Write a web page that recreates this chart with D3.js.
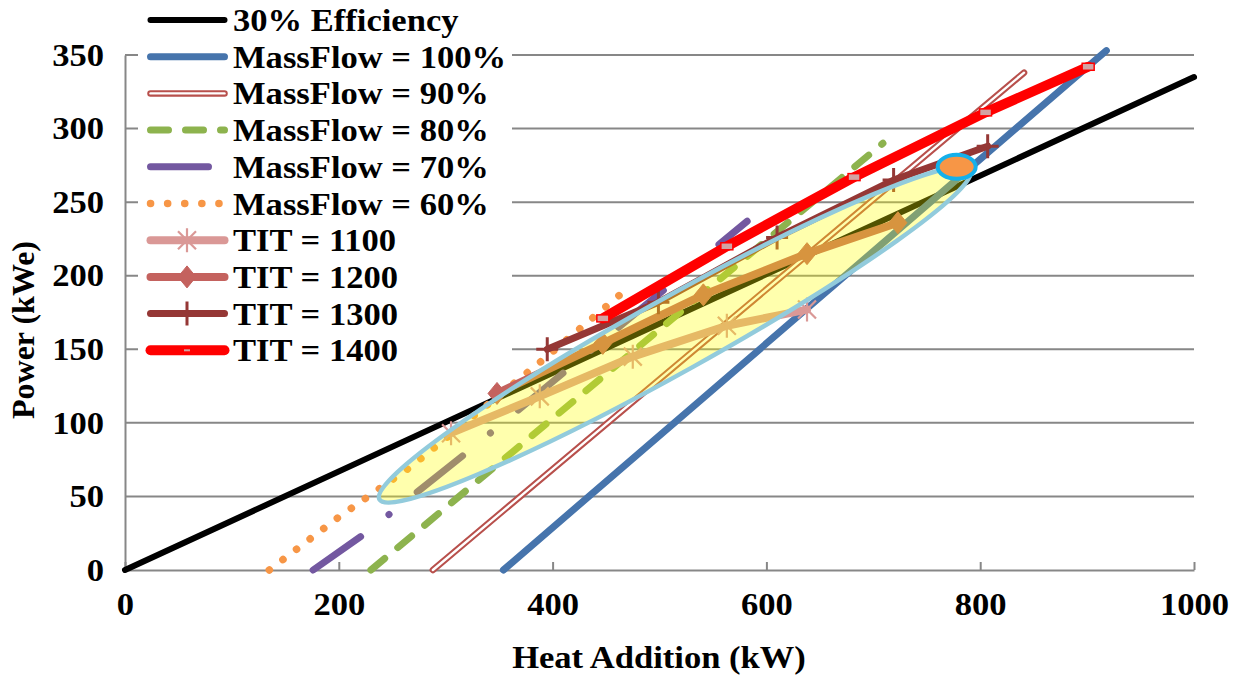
<!DOCTYPE html>
<html lang="en">
<head>
<meta charset="utf-8">
<title>Power vs Heat Addition</title>
<script src="https://d3js.org/d3.v7.min.js"></script>
<style>
  body { margin: 0; background: #fff; }
  text { font-family: "Liberation Serif", "Times New Roman", serif; font-weight: bold; fill: #000; }
</style>
</head>
<body>
<svg id="chart" width="1237" height="677"></svg>
<script>
// values: heat addition (kW) and power (kWe)
var effX = [0, 1000],
    effY = [0, 335];
var mf100X = [354, 918],
    mf100Y = [0, 353];
var mf90X = [288, 841],
    mf90Y = [0, 338];
var mf80X = [230, 709],
    mf80Y = [0, 290];
var mf70X = [176, 225, 320, 582],
    mf70Y = [0, 25, 80, 237];
var mf60X = [135, 200, 267, 388, 463],
    mf60Y = [0, 36, 70, 141, 187];
var tit1100X = [305, 388, 475, 563, 638],
    tit1100Y = [93, 118, 145, 166, 177];
var tit1200X = [348, 447, 541, 638, 723],
    tit1200Y = [120, 154, 187, 215, 236];
var tit1300X = [395, 499, 610, 719, 807],
    tit1300Y = [150, 182, 226, 265, 288];
var tit1400X = [447, 563, 682, 805, 901],
    tit1400Y = [171, 220, 267, 311, 342];

var seriesNames = ["30% Efficiency", "MassFlow = 100%", "MassFlow = 90%", "MassFlow = 80%",
                   "MassFlow = 70%", "MassFlow = 60%", "TIT = 1100", "TIT = 1200",
                   "TIT = 1300", "TIT = 1400"];
var xTicks = [0, 200, 400, 600, 800, 1000];
var yTicks = [0, 50, 100, 150, 200, 250, 300, 350];

// highlighted region (data coords): the two tips of the ellipse, and the marked point
var ellipseTips = [[238, 48], [791, 272]];
var markedPoint = [778, 274];

var stretch = 1.08; // the text in the picture is a bit wide

function zip(xs, ys) {
    return xs.map(function(v, i) { return [v, ys[i]]; });
}

var series = [
    {name: seriesNames[0], pts: zip(effX, effY), color: "#000", width: 6},
    {name: seriesNames[1], pts: zip(mf100X, mf100Y), color: "#4674ac", width: 7},
    {name: seriesNames[2], pts: zip(mf90X, mf90Y), color: "#b8504c", width: 6.5, double: true},
    {name: seriesNames[3], pts: zip(mf80X, mf80Y), color: "#8db34e", width: 7, dash: "18,17"},
    {name: seriesNames[4], pts: zip(mf70X, mf70Y), color: "#7358a0", width: 7, dash: "58,36,0.1,36"},
    {name: seriesNames[5], pts: zip(mf60X, mf60Y), color: "#f79646", width: 7.5, dash: "0.1,17"},
    {name: seriesNames[6], pts: zip(tit1100X, tit1100Y), color: "#da9896", width: 8, marker: "star"},
    {name: seriesNames[7], pts: zip(tit1200X, tit1200Y), color: "#c4625e", width: 8, marker: "diamond"},
    {name: seriesNames[8], pts: zip(tit1300X, tit1300Y), color: "#953735", width: 7, marker: "plus"},
    {name: seriesNames[9], pts: zip(tit1400X, tit1400Y), color: "#ff0000", width: 10, marker: "dash"}
];

var svg = d3.select("#chart");

var x = d3.scaleLinear().domain([0, 1000]).range([125, 1194]),
    y = d3.scaleLinear().domain([0, 350]).range([570, 55]);

function label(g, tx, ty, str, anchor, rot) {
    return g.append("text")
        .attr("transform", "translate(" + tx + "," + ty + ")" +
              (rot ? " rotate(" + rot + ")" : " scale(" + stretch + ",1)"))
        .attr("text-anchor", anchor || "start")
        .style("font-size", "32px")
        .text(str);
}

// gridlines
svg.append("g")
    .selectAll("line")
    .data(yTicks.slice(1))
    .join("line")
    .attr("x1", x(0)).attr("x2", x(1000))
    .attr("y1", function(d) { return y(d); })
    .attr("y2", function(d) { return y(d); })
    .attr("stroke", "#878787")
    .attr("stroke-width", 2);

// axes
var xAxis = svg.append("g")
    .attr("transform", "translate(0," + y(0) + ")")
    .call(d3.axisBottom(x).tickValues(xTicks).tickFormat(d3.format("d"))
          .tickSize(-8).tickSizeOuter(0).tickPadding(22));
var yAxis = svg.append("g")
    .attr("transform", "translate(" + x(0) + ",0)")
    .call(d3.axisLeft(y).tickValues(yTicks).tickSize(0).tickPadding(21 / stretch));

[xAxis, yAxis].forEach(function(a) {
    a.select(".domain").attr("stroke", "#878787").attr("stroke-width", 2);
    a.selectAll(".tick line").attr("stroke", "#878787").attr("stroke-width", 2);
    a.selectAll("text")
        .attr("fill", "#000")
        .attr("transform", "scale(" + stretch + ",1)")
        .style("font-family", '"Liberation Serif", serif')
        .style("font-weight", "bold")
        .style("font-size", "32px");
});

label(svg, 659, 668, "Heat Addition (kW)", "middle");
label(svg, 34, 330, "Power (kWe)", "middle", -90);

// markers
function marker(g, type, cx, cy, color) {
    if (type == "star") {
        g.append("path")
            .attr("d", "M" + (cx - 9) + "," + (cy - 9) + "L" + (cx + 9) + "," + (cy + 9) +
                       "M" + (cx + 9) + "," + (cy - 9) + "L" + (cx - 9) + "," + (cy + 9) +
                       "M" + cx + "," + (cy - 12) + "L" + cx + "," + (cy + 12))
            .attr("stroke", color).attr("stroke-width", 2.2).attr("fill", "none");
    } else if (type == "diamond") {
        g.append("path")
            .attr("d", "M" + cx + "," + (cy - 11) + "L" + (cx + 9) + "," + cy +
                       "L" + cx + "," + (cy + 11) + "L" + (cx - 9) + "," + cy + "Z")
            .attr("fill", color).attr("stroke", color).attr("stroke-width", 1);
    } else if (type == "plus") {
        g.append("path")
            .attr("d", "M" + cx + "," + (cy - 12) + "L" + cx + "," + (cy + 12) +
                       "M" + (cx - 11) + "," + cy + "L" + (cx + 11) + "," + cy)
            .attr("stroke", color).attr("stroke-width", 3).attr("fill", "none");
    } else if (type == "dash") {
        g.append("rect")
            .attr("x", cx - 6).attr("y", cy - 3.5)
            .attr("width", 12).attr("height", 7)
            .attr("fill", "#d2a4a4").attr("stroke", color).attr("stroke-width", 1.5);
    }
}

function drawLine(g, pts, s) {
    var p = g.append("path")
        .attr("d", d3.line()(pts))
        .attr("fill", "none")
        .attr("stroke", s.color)
        .attr("stroke-width", s.width)
        .attr("stroke-linecap", "round")
        .attr("stroke-linejoin", "round");
    if (s.dash) p.attr("stroke-dasharray", s.dash);
    if (s.double) {
        g.append("path")
            .attr("d", d3.line()(pts))
            .attr("fill", "none")
            .attr("stroke", "#fff")
            .attr("stroke-width", 2.4)
            .attr("stroke-linecap", "round")
            .attr("stroke-linejoin", "round");
    }
}

var plot = svg.append("g");
series.forEach(function(s) {
    var g = plot.append("g");
    var pts = s.pts.map(function(d) { return [x(d[0]), y(d[1])]; });
    drawLine(g, pts, s);
    if (s.marker) {
        pts.forEach(function(p) { marker(g, s.marker, p[0], p[1], s.color); });
    }
});

// highlighted ellipse
var t0 = [x(ellipseTips[0][0]), y(ellipseTips[0][1])],
    t1 = [x(ellipseTips[1][0]), y(ellipseTips[1][1])];
var ecx = (t0[0] + t1[0]) / 2, ecy = (t0[1] + t1[1]) / 2,
    ea = Math.hypot(t1[0] - t0[0], t1[1] - t0[1]) / 2,
    eang = Math.atan2(t1[1] - t0[1], t1[0] - t0[0]) * 180 / Math.PI;
svg.append("ellipse")
    .attr("transform", "translate(" + ecx + "," + ecy + ") rotate(" + eang + ")")
    .attr("rx", ea).attr("ry", 37)
    .attr("fill", "#ffff00").attr("fill-opacity", 0.32)
    .attr("stroke", "#92cbdc").attr("stroke-width", 4.5);

svg.append("ellipse")
    .attr("cx", x(markedPoint[0])).attr("cy", y(markedPoint[1]))
    .attr("rx", 19).attr("ry", 12)
    .attr("fill", "#f79646")
    .attr("stroke", "#14b0ea").attr("stroke-width", 4);

// legend
var legend = svg.append("g");
legend.append("rect")
    .attr("x", 138).attr("y", 0).attr("width", 374).attr("height", 372)
    .attr("fill", "#fff");
series.forEach(function(s, i) {
    var cy = 20 + i * 36.7;
    var g = legend.append("g");
    drawLine(g, [[150.5, cy], [224.5, cy]], s);
    if (s.marker == "dash") {
        g.append("rect").attr("x", 184).attr("y", cy - 1).attr("width", 6).attr("height", 2)
            .attr("fill", "#d2a4a4");
    } else if (s.marker) {
        marker(g, s.marker, 187, cy, s.color);
    }
    label(g, 233, cy + 11, s.name);
});
</script>
</body>
</html>
